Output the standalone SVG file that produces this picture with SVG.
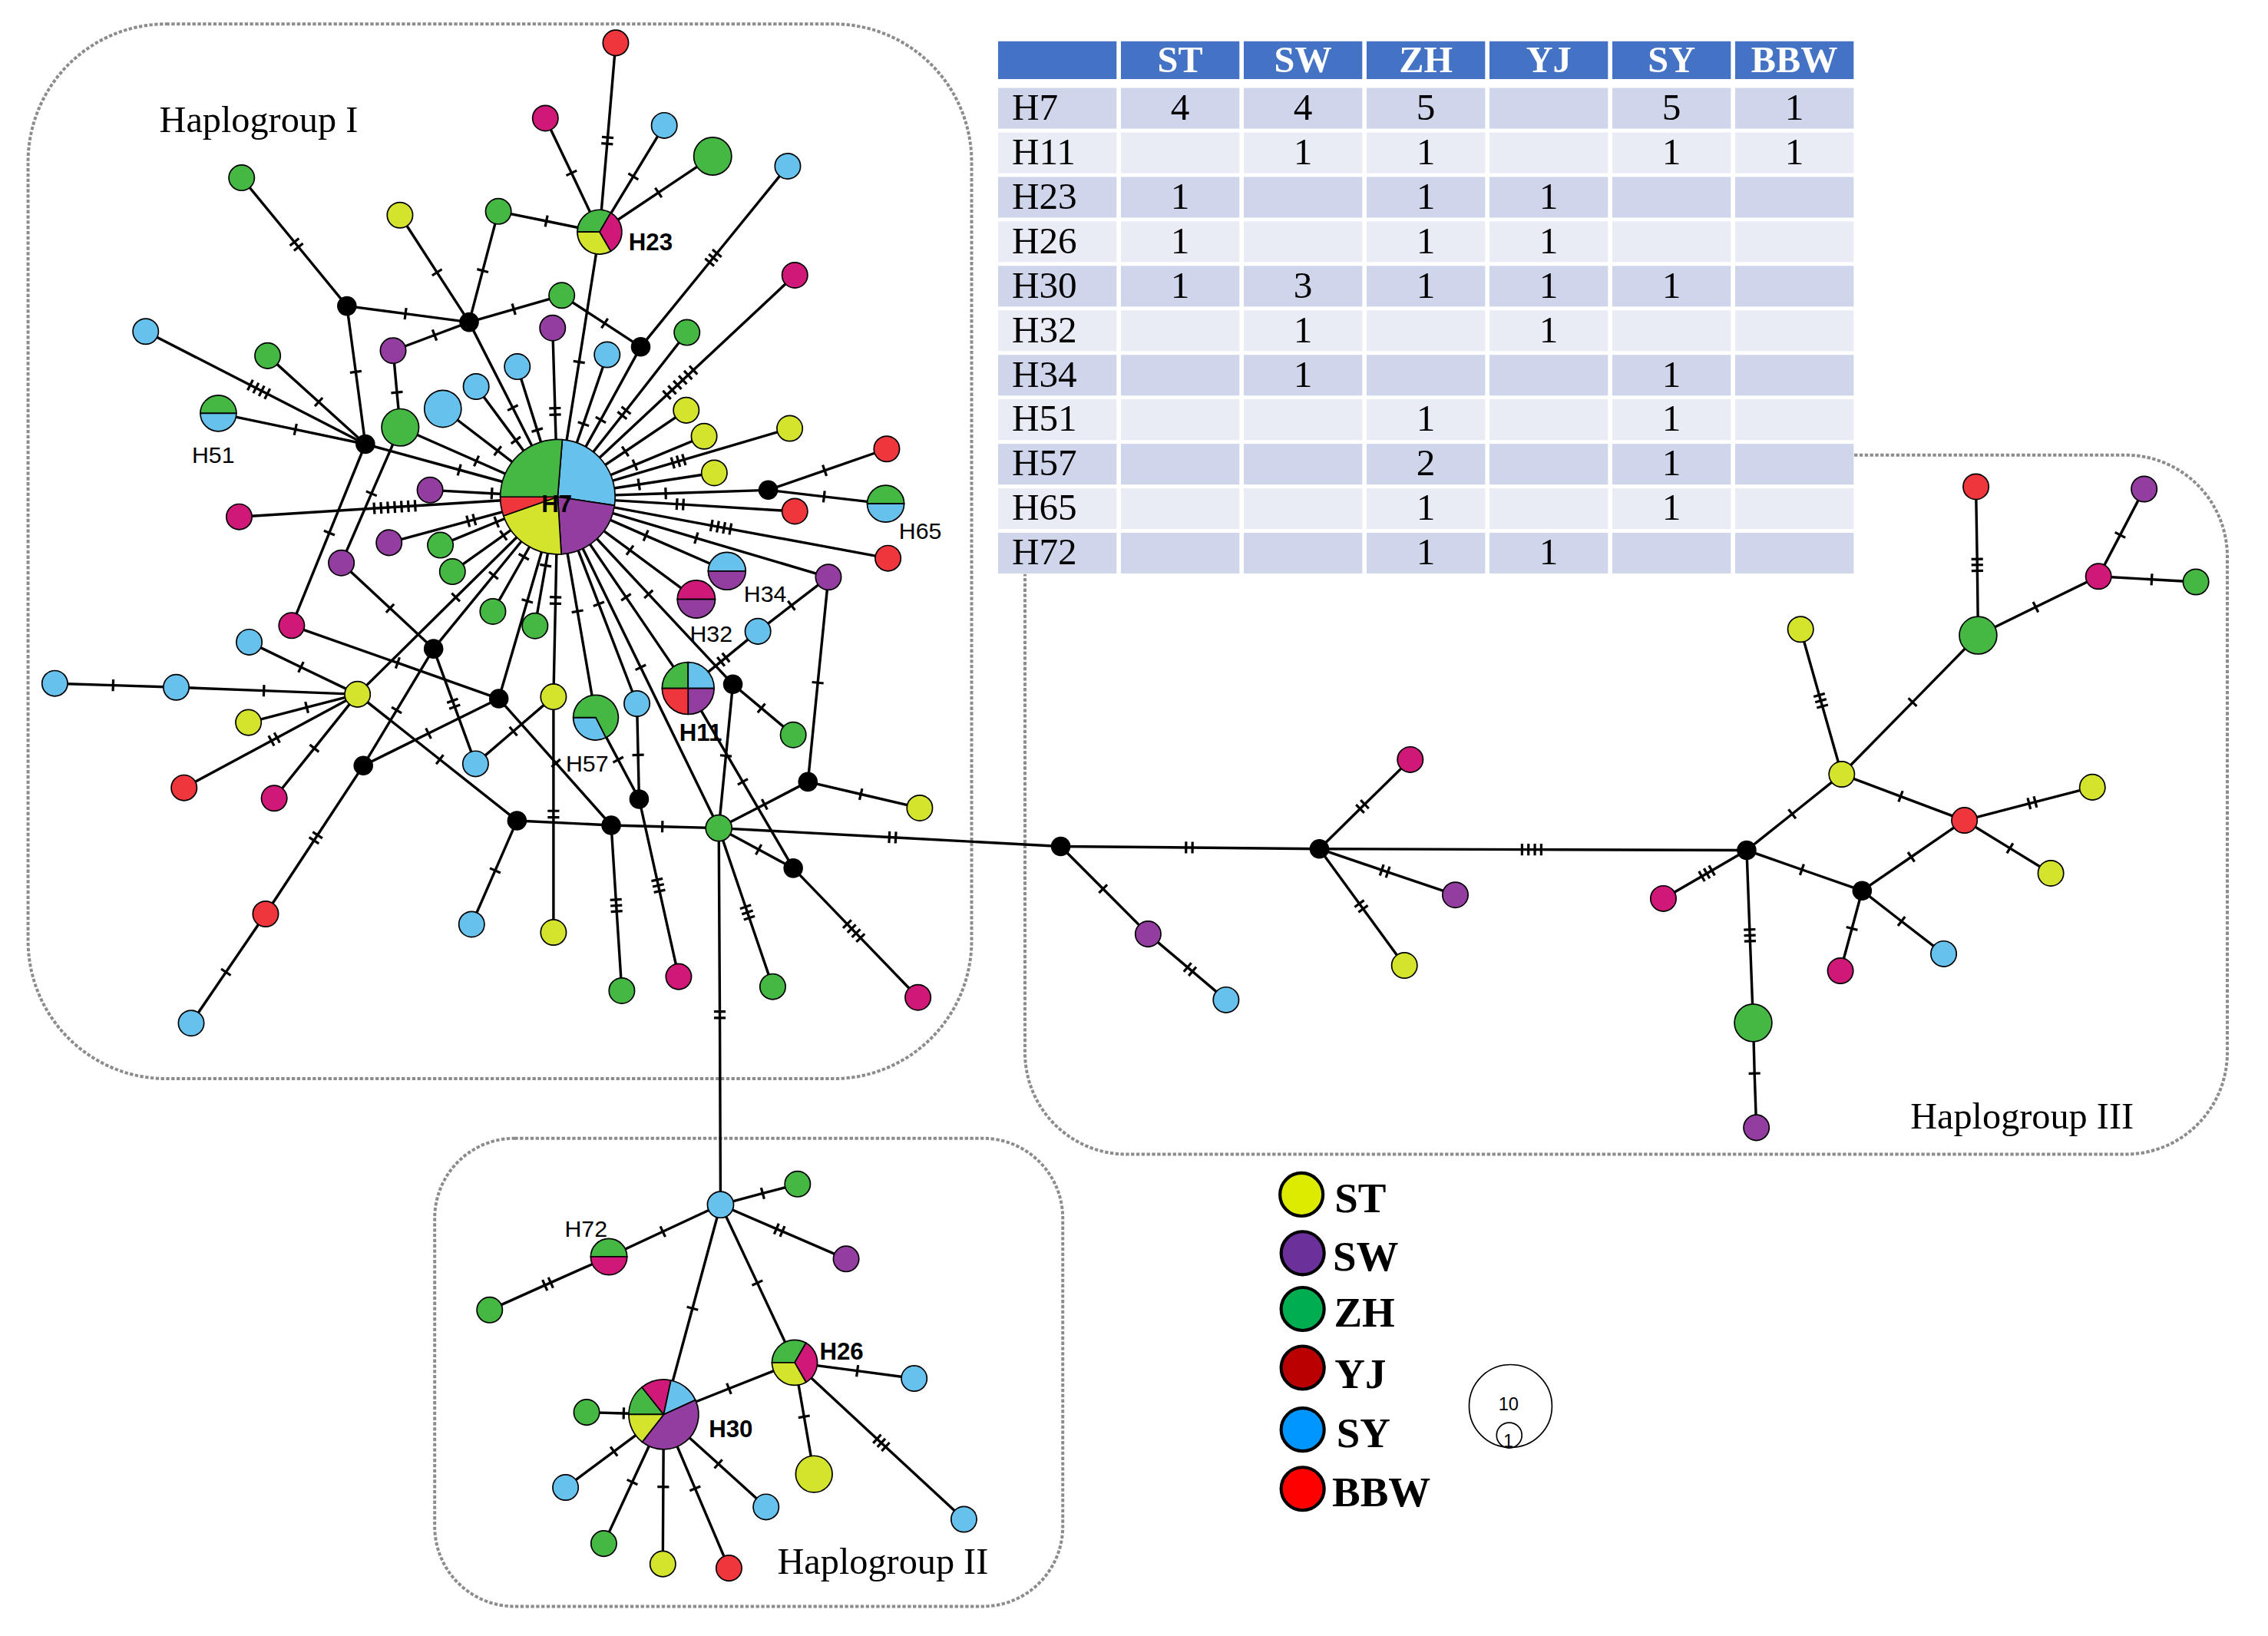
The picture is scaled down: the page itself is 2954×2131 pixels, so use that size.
<svg xmlns="http://www.w3.org/2000/svg" width="2954" height="2131" viewBox="0 0 2954 2131">
<defs>
<style>
.e{fill:none;stroke:#000;stroke-width:1.8}
.k1{marker-mid:url(#t1)}.k2{marker-mid:url(#t2)}.k3{marker-mid:url(#t3)}.k4{marker-mid:url(#t4)}.k6{marker-mid:url(#t6)}.k7{marker-mid:url(#t7)}
.tk{fill:none;stroke:#000;stroke-width:1.7}
circle,.sec{stroke:#000;stroke-width:0.9}
.cy{fill:#D4E42C}.cp{fill:#923D9F}.cg{fill:#45B843}.cm{fill:#CF1877}.cb{fill:#66C1EC}.cr{fill:#EE363C}.ck{fill:#000}
.box{fill:none;stroke:#8C8C8C;stroke-width:2.1;stroke-dasharray:2.3 1.3}
.hg{font-family:"Liberation Serif","Times New Roman",serif;font-size:25.5px;fill:#000}
.lb{font-family:"Liberation Sans",Arial,sans-serif;font-size:16px;fill:#000}
.lbb{font-family:"Liberation Sans",Arial,sans-serif;font-size:16.5px;font-weight:bold;fill:#000}
.th{font-family:"Liberation Serif","Times New Roman",serif;font-size:25.5px;font-weight:bold;fill:#fff;text-anchor:middle}
.td{font-family:"Liberation Serif","Times New Roman",serif;font-size:26px;fill:#000;text-anchor:middle}
.tl{font-family:"Liberation Serif","Times New Roman",serif;font-size:26px;fill:#000}
.lg{font-family:"Liberation Serif","Times New Roman",serif;font-size:29px;font-weight:bold;fill:#000}
.lgc{stroke:#000;stroke-width:2.2}
.sc{font-family:"Liberation Sans",Arial,sans-serif;font-size:12.5px;fill:#000;text-anchor:middle}
</style>
<marker id="t1" markerUnits="userSpaceOnUse" orient="auto" markerWidth="30" markerHeight="30" refX="15" refY="15" overflow="visible"><path class="tk" d="M15 11V19"/></marker>
<marker id="t2" markerUnits="userSpaceOnUse" orient="auto" markerWidth="30" markerHeight="30" refX="15" refY="15" overflow="visible"><path class="tk" d="M12.8 11V19M17.2 11V19"/></marker>
<marker id="t3" markerUnits="userSpaceOnUse" orient="auto" markerWidth="30" markerHeight="30" refX="15" refY="15" overflow="visible"><path class="tk" d="M11 11V19M15 11V19M19 11V19"/></marker>
<marker id="t4" markerUnits="userSpaceOnUse" orient="auto" markerWidth="30" markerHeight="30" refX="15" refY="15" overflow="visible"><path class="tk" d="M8.4 11V19M12.8 11V19M17.2 11V19M21.6 11V19"/></marker>
<marker id="t6" markerUnits="userSpaceOnUse" orient="auto" markerWidth="30" markerHeight="30" refX="15" refY="15" overflow="visible"><path class="tk" d="M2.5 11V19M7.5 11V19M12.5 11V19M17.5 11V19M22.5 11V19M27.5 11V19"/></marker>
<marker id="t7" markerUnits="userSpaceOnUse" orient="auto" markerWidth="30" markerHeight="30" refX="15" refY="15" overflow="visible"><path class="tk" d="M0.9 11V19M5.6 11V19M10.3 11V19M15 11V19M19.7 11V19M24.4 11V19M29.1 11V19"/></marker>
</defs>
<rect width="2954" height="2131" fill="#fff"/>
<g transform="scale(1.8936)">
<g id="groups">
<rect class="box" x="19.3" y="16.5" width="649" height="725.5" rx="95" ry="95"/>
<rect class="box" x="299" y="783" width="432" height="322" rx="55" ry="55"/>
<rect class="box" x="705" y="313" width="827" height="481" rx="70" ry="70"/>
<text class="hg" x="109.6" y="90.8">Haplogroup I</text>
<text class="hg" x="534.7" y="1082.4">Haplogroup II</text>
<text class="hg" x="1314" y="776.4">Haplogroup III</text>
</g>
<g id="table">
<rect x="686.5" y="28.4" width="588.5" height="366.5" fill="#fff"/>
<rect x="686.5" y="28.4" width="588.5" height="26" fill="#4472C4"/>
<rect x="686.5" y="60.5" width="588.5" height="28" fill="#CFD5EA"/>
<rect x="686.5" y="91.1" width="588.5" height="28" fill="#E9EBF5"/>
<rect x="686.5" y="121.7" width="588.5" height="28" fill="#CFD5EA"/>
<rect x="686.5" y="152.3" width="588.5" height="28" fill="#E9EBF5"/>
<rect x="686.5" y="182.9" width="588.5" height="28" fill="#CFD5EA"/>
<rect x="686.5" y="213.5" width="588.5" height="28" fill="#E9EBF5"/>
<rect x="686.5" y="244.1" width="588.5" height="28" fill="#CFD5EA"/>
<rect x="686.5" y="274.7" width="588.5" height="28" fill="#E9EBF5"/>
<rect x="686.5" y="305.3" width="588.5" height="28" fill="#CFD5EA"/>
<rect x="686.5" y="335.9" width="588.5" height="28" fill="#E9EBF5"/>
<rect x="686.5" y="366.5" width="588.5" height="28" fill="#CFD5EA"/>
<path d="M769.5 27V396M854 27V396M938.5 27V396M1023 27V396M1107.5 27V396M1192 27V396" stroke="#fff" stroke-width="3"/>
<text class="th" x="811.75" y="49.9">ST</text><text class="th" x="896.25" y="49.9">SW</text><text class="th" x="980.75" y="49.9">ZH</text><text class="th" x="1065.25" y="49.9">YJ</text><text class="th" x="1149.75" y="49.9">SY</text><text class="th" x="1234.25" y="49.9">BBW</text>
<text class="tl" x="696" y="82.3">H7</text><text class="td" x="811.75" y="82.3">4</text><text class="td" x="896.25" y="82.3">4</text><text class="td" x="980.75" y="82.3">5</text><text class="td" x="1149.75" y="82.3">5</text><text class="td" x="1234.25" y="82.3">1</text>
<text class="tl" x="696" y="112.9">H11</text><text class="td" x="896.25" y="112.9">1</text><text class="td" x="980.75" y="112.9">1</text><text class="td" x="1149.75" y="112.9">1</text><text class="td" x="1234.25" y="112.9">1</text>
<text class="tl" x="696" y="143.5">H23</text><text class="td" x="811.75" y="143.5">1</text><text class="td" x="980.75" y="143.5">1</text><text class="td" x="1065.25" y="143.5">1</text>
<text class="tl" x="696" y="174.1">H26</text><text class="td" x="811.75" y="174.1">1</text><text class="td" x="980.75" y="174.1">1</text><text class="td" x="1065.25" y="174.1">1</text>
<text class="tl" x="696" y="204.7">H30</text><text class="td" x="811.75" y="204.7">1</text><text class="td" x="896.25" y="204.7">3</text><text class="td" x="980.75" y="204.7">1</text><text class="td" x="1065.25" y="204.7">1</text><text class="td" x="1149.75" y="204.7">1</text>
<text class="tl" x="696" y="235.3">H32</text><text class="td" x="896.25" y="235.3">1</text><text class="td" x="1065.25" y="235.3">1</text>
<text class="tl" x="696" y="265.9">H34</text><text class="td" x="896.25" y="265.9">1</text><text class="td" x="1149.75" y="265.9">1</text>
<text class="tl" x="696" y="296.5">H51</text><text class="td" x="980.75" y="296.5">1</text><text class="td" x="1149.75" y="296.5">1</text>
<text class="tl" x="696" y="327.1">H57</text><text class="td" x="980.75" y="327.1">2</text><text class="td" x="1149.75" y="327.1">1</text>
<text class="tl" x="696" y="357.7">H65</text><text class="td" x="980.75" y="357.7">1</text><text class="td" x="1149.75" y="357.7">1</text>
<text class="tl" x="696" y="388.3">H72</text><text class="td" x="980.75" y="388.3">1</text><text class="td" x="1065.25" y="388.3">1</text>
</g>
<g id="connectors">
<path class="e k2" d="M238.6 210.5L203.9 168.2L166.2 122.3"/>
<path class="e k1" d="M238.6 210.5L278.9 215.8L322.7 221.6"/>
<path class="e k1" d="M238.6 210.5L244.7 255.8L251.3 305.5"/>
<path class="e k1" d="M322.7 221.6L300.6 187.4L275.1 148"/>
<path class="e k1" d="M322.7 221.6L332 186.2L342.8 145.4"/>
<path class="e k1" d="M322.7 221.6L298.9 230.5L270.4 241.2"/>
<path class="e k1" d="M322.7 221.6L353.4 212.7L386.4 203.2"/>
<path class="e k1" d="M322.7 221.6L352.7 280.5L383.6 341.8"/>
<path class="e k1" d="M342.8 145.4L375.8 152.1L412.4 159.6"/>
<path class="e k1" d="M270.4 241.2L273 269.9L275.3 294"/>
<path class="e k4" d="M251.3 305.5L178 267.9L100.2 228"/>
<path class="e k1" d="M251.3 305.5L219.2 276.5L184.1 244.7"/>
<path class="e k1" d="M251.3 305.5L203.2 295.4L150.2 284.3"/>
<path class="e k1" d="M251.3 305.5L315.9 323.2L383.6 341.8"/>
<path class="e k1" d="M251.3 305.5L226.5 366.6L200.6 430.3"/>
<path class="e k1" d="M275.3 294L327.7 317.1L383.6 341.8"/>
<path class="e k1" d="M275.3 294L255.5 339.5L234.8 387.2"/>
<path class="e k1" d="M304.6 281.2L342.3 310.1L383.6 341.8"/>
<path class="e k1" d="M327.5 265.9L354.8 302.8L383.6 341.8"/>
<path class="e k1" d="M355.8 252.2L369.5 295.8L383.6 341.8"/>
<path class="e k1" d="M295.8 337.1L338.3 339.4L383.6 341.8"/>
<path class="e k7" d="M164.5 355.5L271.5 348.8L383.6 341.8"/>
<path class="e k2" d="M412.4 159.6L417.8 96.7L423.5 29.5"/>
<path class="e k1" d="M412.4 159.6L393.1 119L375.1 81.3"/>
<path class="e k1" d="M412.4 159.6L435.6 121.4L456.9 86.3"/>
<path class="e k1" d="M412.4 159.6L452.9 132.5L490.2 107.5"/>
<path class="e k1" d="M412.4 159.6L398.3 249L383.6 341.8"/>
<path class="e k1" d="M440.7 238.6L415.9 222.4L386.4 203.2"/>
<path class="e k3" d="M440.7 238.6L490.6 177.3L541.8 114.3"/>
<path class="e k1" d="M440.7 238.6L413.2 288.8L383.6 341.8"/>
<path class="e k6" d="M383.6 341.8L467.8 263.1L546.7 189.3"/>
<path class="e k2" d="M383.6 341.8L381.8 283L380.1 225.6"/>
<path class="e k1" d="M383.6 341.8L401.3 291.6L417.6 244"/>
<path class="e k2" d="M383.6 341.8L429.3 284L472.5 228.7"/>
<path class="e k1" d="M383.6 341.8L430.1 310.5L472 282.2"/>
<path class="e k1" d="M383.6 341.8L436.7 319.8L484.3 300.1"/>
<path class="e k3" d="M383.6 341.8L466.6 317.3L543.2 294.7"/>
<path class="e k1" d="M383.6 341.8L439.5 333.2L491.3 325.3"/>
<path class="e k1" d="M383.6 341.8L457.9 339.4L528.4 337.1"/>
<path class="e k1" d="M528.4 337.1L567.2 323.6L609.9 308.8"/>
<path class="e k1" d="M528.4 337.1L566.8 341.6L609.2 346.5"/>
<path class="e k2" d="M383.6 341.8L467.8 346.9L546.7 351.7"/>
<path class="e k4" d="M383.6 341.8L495.9 362.7L610.8 384"/>
<path class="e k1" d="M383.6 341.8L478.9 370.1L569.8 397"/>
<path class="e k1" d="M569.8 397L544.4 416.5L521.3 434.3"/>
<path class="e k1" d="M569.8 397L562.5 469.6L555.7 537.8"/>
<path class="e k2" d="M521.3 434.3L497.6 453.7L473.3 473.5"/>
<path class="e k1" d="M383.6 341.8L444.2 368.4L500 392.8"/>
<path class="e k1" d="M383.6 341.8L433.3 378.5L478.9 412.2"/>
<path class="e k1" d="M383.6 341.8L446.1 408.7L504.1 470.7"/>
<path class="e k1" d="M504.1 470.7L523.7 487.1L545.6 505.5"/>
<path class="e k1" d="M504.1 470.7L499.3 519.9L494.4 569.6"/>
<path class="e k1" d="M383.6 341.8L430.6 410.8L473.3 473.5"/>
<path class="e k1" d="M473.3 473.5L510.9 537.8L545.6 597.2"/>
<path class="e k1" d="M494.4 569.6L525.9 553.3L555.7 537.8"/>
<path class="e k1" d="M494.4 569.6L521.8 584.4L545.6 597.2"/>
<path class="e k1" d="M555.7 537.8L592.1 546.3L632.6 555.8"/>
<path class="e k4" d="M545.6 597.2L587.3 640.4L631.4 686.1"/>
<path class="e k3" d="M494.4 569.6L514.1 627.6L531.5 678.7"/>
<path class="e k1" d="M383.6 341.8L440.65 459.1L494.4 569.6"/>
<path class="e k1" d="M383.6 341.8L411.85 415.5L438.1 484"/>
<path class="e k1" d="M438.1 484L438.9 519.3L439.6 549.7"/>
<path class="e k1" d="M383.6 341.8L397.2 420.5L409.8 493.6"/>
<path class="e k1" d="M409.8 493.6L425.2 522.6L439.6 549.7"/>
<path class="e k3" d="M439.6 549.7L452.8 609.1L466.8 671.8"/>
<path class="e k1" d="M420.4 567.7L455.6 568.6L494.4 569.6"/>
<path class="e" d="M355.6 564.5L420.4 567.7"/>
<path class="e k3" d="M420.4 567.7L423.9 622.9L427.7 681.5"/>
<path class="e k2" d="M383.6 341.8L382.1 413L380.7 479.3"/>
<path class="e k2" d="M380.7 479.3L380.7 560L380.7 641.4"/>
<path class="e k1" d="M380.7 479.3L353.1 503L327.1 525.4"/>
<path class="e k2" d="M298.2 446.3L312 484.1L327.1 525.4"/>
<path class="e k1" d="M383.6 341.8L375.3 389L368 430.5"/>
<path class="e k1" d="M383.6 341.8L362.7 413.4L343.1 480.6"/>
<path class="e k1" d="M383.6 341.8L360.3 383L339 420.6"/>
<path class="e k1" d="M383.6 341.8L339.5 395.8L298.2 446.3"/>
<path class="e k1" d="M383.6 341.8L313.5 410.9L245.9 477.6"/>
<path class="e k1" d="M383.6 341.8L346.3 368.3L311.2 393.2"/>
<path class="e k1" d="M383.6 341.8L341.5 359.1L302.9 375"/>
<path class="e k2" d="M383.6 341.8L324.1 358L267.6 373.3"/>
<path class="e k1" d="M343.1 480.6L294.7 504.5L249.9 526.6"/>
<path class="e k1" d="M343.1 480.6L273.5 456L200.6 430.3"/>
<path class="e k1" d="M343.1 480.6L382.4 524.9L420.4 567.7"/>
<path class="e k1" d="M298.2 446.3L272.8 488.5L249.9 526.6"/>
<path class="e k1" d="M298.2 446.3L268.3 418.4L234.8 387.2"/>
<path class="e k2" d="M249.9 526.6L217.2 576.3L182.7 628.7"/>
<path class="e k1" d="M182.7 628.7L155.4 668.7L131.5 703.8"/>
<path class="e k1" d="M245.9 477.6L207 458.9L171.4 441.7"/>
<path class="e k1" d="M245.9 477.6L181.5 475.1L121.2 472.8"/>
<path class="e k1" d="M121.2 472.8L77.8 471.4L37.7 470.1"/>
<path class="e k1" d="M245.9 477.6L211 486.6L170.9 497"/>
<path class="e k2" d="M245.9 477.6L188.6 508.5L126.6 541.9"/>
<path class="e k1" d="M245.9 477.6L216.2 514.7L188.6 549.1"/>
<path class="e k1" d="M245.9 477.6L302.5 522.4L355.6 564.5"/>
<path class="e k1" d="M355.6 564.5L340.6 598.8L324.4 635.8"/>
<path class="e k2" d="M494.4 569.6L613.9 576L729.6 582.2"/>
<path class="e k2" d="M494.4 569.6L495.1 698L495.6 828.7"/>
<path class="e k2" d="M729.6 582.2L818 583L907.5 583.9"/>
<path class="e k1" d="M729.6 582.2L758.7 611.4L789.7 642.5"/>
<path class="e k2" d="M789.7 642.5L818.5 666.8L843.3 687.8"/>
<path class="e k2" d="M907.5 583.9L937.1 554.8L970 522.5"/>
<path class="e k2" d="M907.5 583.9L952.5 599.2L1001 615.6"/>
<path class="e k2" d="M907.5 583.9L936.3 623.4L966 664.1"/>
<path class="e k4" d="M907.5 583.9L1053.5 584.4L1201.4 584.9"/>
<path class="e k3" d="M1201.4 584.9L1174 600.8L1144.1 618.1"/>
<path class="e k3" d="M1201.4 584.9L1203.6 643.4L1205.9 703.6"/>
<path class="e k1" d="M1205.9 703.6L1206.8 738.4L1208.1 775.7"/>
<path class="e k1" d="M1201.4 584.9L1232.7 559.9L1266.8 532.6"/>
<path class="e k1" d="M1201.4 584.9L1239.4 598.2L1280.8 612.7"/>
<path class="e k1" d="M1280.8 612.7L1273.8 638.7L1265.9 667.8"/>
<path class="e k1" d="M1280.8 612.7L1307.9 633.7L1336.9 656.1"/>
<path class="e k1" d="M1280.8 612.7L1314.6 589.5L1351.2 564.3"/>
<path class="e k1" d="M1266.8 532.6L1307.3 547.8L1351.2 564.3"/>
<path class="e k2" d="M1351.2 564.3L1397.8 552.2L1439.2 541.5"/>
<path class="e k1" d="M1351.2 564.3L1382.5 583.5L1410.6 600.7"/>
<path class="e k3" d="M1266.8 532.6L1252.4 482L1238.5 432.9"/>
<path class="e k1" d="M1266.8 532.6L1315.5 483L1360.6 437"/>
<path class="e k3" d="M1360.6 437L1360 388.6L1359.1 334.8"/>
<path class="e k1" d="M1360.6 437L1400.2 417.6L1443.4 396.5"/>
<path class="e k1" d="M1443.4 396.5L1458.3 368L1474.8 336.4"/>
<path class="e k1" d="M1443.4 396.5L1480 398.6L1510.4 400.3"/>
<path class="e k1" d="M495.6 828.7L524.6 820.9L548.6 814.5"/>
<path class="e k2" d="M495.6 828.7L536.1 846.2L582 866"/>
<path class="e k1" d="M495.6 828.7L455.9 847.2L418.8 864.5"/>
<path class="e k2" d="M418.8 864.5L376.8 883.2L336.8 901.1"/>
<path class="e k1" d="M495.6 828.7L476.3 900L456.5 973"/>
<path class="e k1" d="M495.6 828.7L520.9 882.5L546.6 937.3"/>
<path class="e k1" d="M546.6 937.3L501.4 955.2L456.5 973"/>
<path class="e k1" d="M546.6 937.3L589.7 943L628.8 948.2"/>
<path class="e k1" d="M546.6 937.3L553.05 974.5L559.9 1014"/>
<path class="e k3" d="M546.6 937.3L606.2 992.5L663 1045.1"/>
<path class="e k1" d="M456.5 973L429 972.2L403.5 971.5"/>
<path class="e k1" d="M456.5 973L422.3 998.4L389 1023.2"/>
<path class="e k1" d="M456.5 973L434.9 1019.5L415.3 1061.8"/>
<path class="e k1" d="M456.5 973L456.2 1022.8L455.9 1075.8"/>
<path class="e k1" d="M456.5 973L478.1 1023.9L501.4 1078.7"/>
<path class="e k1" d="M456.5 973L494.1 1007L526.9 1036.6"/>
</g>
<g id="nodes">
<g id="H7">
<path class="sec cb" d="M383.6 341.8L386.77 302.43A39.5 39.5 0 0 1 422.67 347.64Z"/>
<path class="sec cp" d="M383.6 341.8L422.67 347.64A39.5 39.5 0 0 1 386.08 381.22Z"/>
<path class="sec cy" d="M383.6 341.8L386.08 381.22A39.5 39.5 0 0 1 346.32 354.86Z"/>
<path class="sec cr" d="M383.6 341.8L346.32 354.86A39.5 39.5 0 0 1 344.1 341.8Z"/>
<path class="sec cg" d="M383.6 341.8L344.1 341.8A39.5 39.5 0 0 1 386.77 302.43Z"/>
<text class="lbb" x="383" y="352.4" text-anchor="middle" font-size="20">H7</text>
</g>
<g id="H23">
<path class="sec cg" d="M412.4 159.6L397.1 159.6A15.3 15.3 0 0 1 420.05 146.35Z"/>
<path class="sec cm" d="M412.4 159.6L420.05 146.35A15.3 15.3 0 0 1 420.05 172.85Z"/>
<path class="sec cy" d="M412.4 159.6L420.05 172.85A15.3 15.3 0 0 1 397.1 159.6Z"/>
<text class="lbb" x="432.4" y="172.1">H23</text>
</g>
<g id="H51">
<path class="sec cg" d="M137.8 284.3A12.4 12.4 0 0 1 162.6 284.3Z"/>
<path class="sec cb" d="M162.6 284.3A12.4 12.4 0 0 1 137.8 284.3Z"/>
<text class="lb" x="132" y="318.2">H51</text>
</g>
<g id="H65">
<path class="sec cg" d="M596.5 346.5A12.7 12.7 0 0 1 621.9 346.5Z"/>
<path class="sec cb" d="M621.9 346.5A12.7 12.7 0 0 1 596.5 346.5Z"/>
<text class="lb" x="618.3" y="370.8">H65</text>
</g>
<g id="H34">
<path class="sec cb" d="M487.1 392.8A12.9 12.9 0 0 1 512.9 392.8Z"/>
<path class="sec cp" d="M512.9 392.8A12.9 12.9 0 0 1 487.1 392.8Z"/>
<text class="lb" x="511.6" y="414.1">H34</text>
</g>
<g id="H32">
<path class="sec cm" d="M465.9 412.2A13 13 0 0 1 491.9 412.2Z"/>
<path class="sec cp" d="M491.9 412.2A13 13 0 0 1 465.9 412.2Z"/>
<text class="lb" x="474.5" y="441.7">H32</text>
</g>
<g id="H11">
<path class="sec cg" d="M473.3 473.5L455.4 473.5A17.9 17.9 0 0 1 473.3 455.6Z"/>
<path class="sec cb" d="M473.3 473.5L473.3 455.6A17.9 17.9 0 0 1 491.2 473.5Z"/>
<path class="sec cp" d="M473.3 473.5L491.2 473.5A17.9 17.9 0 0 1 473.3 491.4Z"/>
<path class="sec cr" d="M473.3 473.5L473.3 491.4A17.9 17.9 0 0 1 455.4 473.5Z"/>
<text class="lbb" x="467.2" y="509.4">H11</text>
</g>
<g id="H57">
<path class="sec cb" d="M409.8 493.6L416.84 507.41A15.5 15.5 0 0 1 394.3 493.6Z"/>
<path class="sec cg" d="M409.8 493.6L394.3 493.6A15.5 15.5 0 1 1 416.84 507.41Z"/>
<text class="lb" x="389.2" y="530.9">H57</text>
</g>
<g id="M1"><circle class="ck" cx="238.6" cy="210.5" r="6.3"/></g>
<g id="M2"><circle class="ck" cx="322.7" cy="221.6" r="6.3"/></g>
<g id="M3"><circle class="ck" cx="440.7" cy="238.6" r="6.3"/></g>
<g id="M4"><circle class="ck" cx="251.3" cy="305.5" r="6.3"/></g>
<g id="M5"><circle class="ck" cx="528.4" cy="337.1" r="6.3"/></g>
<g id="M6"><circle class="ck" cx="298.2" cy="446.3" r="6.3"/></g>
<g id="M7"><circle class="ck" cx="343.1" cy="480.6" r="6.3"/></g>
<g id="M8"><circle class="ck" cx="249.9" cy="526.6" r="6.3"/></g>
<g id="M9"><circle class="ck" cx="355.6" cy="564.5" r="6.3"/></g>
<g id="M10"><circle class="ck" cx="420.4" cy="567.7" r="6.3"/></g>
<g id="M11"><circle class="ck" cx="439.6" cy="549.7" r="6.3"/></g>
<g id="M12"><circle class="ck" cx="504.1" cy="470.7" r="6.3"/></g>
<g id="M13"><circle class="ck" cx="555.7" cy="537.8" r="6.3"/></g>
<g id="M14"><circle class="ck" cx="545.6" cy="597.2" r="6.3"/></g>
<g id="G0"><circle class="cg" cx="494.4" cy="569.6" r="9"/></g>
<g id="L1"><circle class="cg" cx="166.2" cy="122.3" r="8.8"/></g>
<g id="L2"><circle class="cy" cx="275.1" cy="148" r="8.8"/></g>
<g id="L3"><circle class="cg" cx="342.8" cy="145.4" r="8.8"/></g>
<g id="L4"><circle class="cb" cx="100.2" cy="228" r="8.8"/></g>
<g id="L5"><circle class="cg" cx="184.1" cy="244.7" r="8.8"/></g>
<g id="L6"><circle class="cp" cx="270.4" cy="241.2" r="8.8"/></g>
<g id="L7"><circle class="cg" cx="275.3" cy="294" r="12.8"/></g>
<g id="L8"><circle class="cb" cx="304.6" cy="281.2" r="12.7"/></g>
<g id="L9"><circle class="cb" cx="327.5" cy="265.9" r="8.8"/></g>
<g id="L10"><circle class="cb" cx="355.8" cy="252.2" r="8.8"/></g>
<g id="L11"><circle class="cp" cx="295.8" cy="337.1" r="8.8"/></g>
<g id="L12"><circle class="cm" cx="164.5" cy="355.5" r="8.8"/></g>
<g id="L13"><circle class="cr" cx="423.5" cy="29.5" r="8.8"/></g>
<g id="L14"><circle class="cm" cx="375.1" cy="81.3" r="8.8"/></g>
<g id="L15"><circle class="cb" cx="456.9" cy="86.3" r="8.8"/></g>
<g id="L16"><circle class="cg" cx="490.2" cy="107.5" r="13"/></g>
<g id="L17"><circle class="cb" cx="541.8" cy="114.3" r="8.8"/></g>
<g id="L18"><circle class="cm" cx="546.7" cy="189.3" r="8.8"/></g>
<g id="L19"><circle class="cg" cx="386.4" cy="203.2" r="8.8"/></g>
<g id="L20"><circle class="cp" cx="380.1" cy="225.6" r="8.8"/></g>
<g id="L21"><circle class="cb" cx="417.6" cy="244" r="8.8"/></g>
<g id="L22"><circle class="cg" cx="472.5" cy="228.7" r="8.8"/></g>
<g id="L23"><circle class="cy" cx="472" cy="282.2" r="8.8"/></g>
<g id="L24"><circle class="cy" cx="484.3" cy="300.1" r="8.8"/></g>
<g id="L25"><circle class="cy" cx="543.2" cy="294.7" r="8.8"/></g>
<g id="L26"><circle class="cy" cx="491.3" cy="325.3" r="8.8"/></g>
<g id="L27"><circle class="cr" cx="609.9" cy="308.8" r="8.8"/></g>
<g id="L28"><circle class="cr" cx="546.7" cy="351.7" r="8.8"/></g>
<g id="L29"><circle class="cr" cx="610.8" cy="384" r="8.8"/></g>
<g id="L30"><circle class="cp" cx="569.8" cy="397" r="8.8"/></g>
<g id="L31"><circle class="cb" cx="521.3" cy="434.3" r="8.8"/></g>
<g id="L32"><circle class="cg" cx="545.6" cy="505.5" r="8.8"/></g>
<g id="L33"><circle class="cb" cx="438.1" cy="484" r="8.8"/></g>
<g id="L34"><circle class="cy" cx="380.7" cy="479.3" r="8.8"/></g>
<g id="L35"><circle class="cy" cx="380.7" cy="641.4" r="8.8"/></g>
<g id="L36"><circle class="cb" cx="327.1" cy="525.4" r="8.8"/></g>
<g id="L38"><circle class="cy" cx="632.6" cy="555.8" r="8.8"/></g>
<g id="L39"><circle class="cb" cx="324.4" cy="635.8" r="8.8"/></g>
<g id="L40"><circle class="cg" cx="427.7" cy="681.5" r="8.8"/></g>
<g id="L41"><circle class="cm" cx="466.8" cy="671.8" r="8.8"/></g>
<g id="L42"><circle class="cg" cx="531.5" cy="678.7" r="8.8"/></g>
<g id="L43"><circle class="cm" cx="631.4" cy="686.1" r="8.8"/></g>
<g id="L44"><circle class="cr" cx="182.7" cy="628.7" r="8.8"/></g>
<g id="L45"><circle class="cb" cx="131.5" cy="703.8" r="8.8"/></g>
<g id="L46"><circle class="cp" cx="234.8" cy="387.2" r="8.8"/></g>
<g id="L47"><circle class="cm" cx="200.6" cy="430.3" r="8.8"/></g>
<g id="L48"><circle class="cy" cx="245.9" cy="477.6" r="8.8"/></g>
<g id="L49"><circle class="cb" cx="171.4" cy="441.7" r="8.8"/></g>
<g id="L50"><circle class="cb" cx="121.2" cy="472.8" r="8.8"/></g>
<g id="L51"><circle class="cy" cx="170.9" cy="497" r="8.8"/></g>
<g id="L52"><circle class="cr" cx="126.6" cy="541.9" r="8.8"/></g>
<g id="L53"><circle class="cm" cx="188.6" cy="549.1" r="8.8"/></g>
<g id="L54"><circle class="cb" cx="37.7" cy="470.1" r="8.8"/></g>
<g id="L55"><circle class="cp" cx="267.6" cy="373.3" r="8.8"/></g>
<g id="L56"><circle class="cg" cx="302.9" cy="375" r="8.8"/></g>
<g id="L57"><circle class="cg" cx="311.2" cy="393.2" r="8.8"/></g>
<g id="L58"><circle class="cg" cx="339" cy="420.6" r="8.8"/></g>
<g id="L59"><circle class="cg" cx="368" cy="430.5" r="8.8"/></g>
<g id="M20"><circle class="ck" cx="729.6" cy="582.2" r="6.3"/></g>
<g id="M21"><circle class="ck" cx="907.5" cy="583.9" r="6.3"/></g>
<g id="M22"><circle class="ck" cx="1201.4" cy="584.9" r="6.3"/></g>
<g id="M23"><circle class="ck" cx="1280.8" cy="612.7" r="6.3"/></g>
<g id="N1"><circle class="cp" cx="789.7" cy="642.5" r="8.8"/></g>
<g id="N2"><circle class="cb" cx="843.3" cy="687.8" r="8.8"/></g>
<g id="N3"><circle class="cm" cx="970" cy="522.5" r="8.8"/></g>
<g id="N4"><circle class="cp" cx="1001" cy="615.6" r="8.8"/></g>
<g id="N5"><circle class="cy" cx="966" cy="664.1" r="8.8"/></g>
<g id="N6"><circle class="cm" cx="1144.1" cy="618.1" r="8.8"/></g>
<g id="N7"><circle class="cg" cx="1205.9" cy="703.6" r="12.9"/></g>
<g id="N8"><circle class="cp" cx="1208.1" cy="775.7" r="8.8"/></g>
<g id="N9"><circle class="cy" cx="1266.8" cy="532.6" r="8.8"/></g>
<g id="N10"><circle class="cm" cx="1265.9" cy="667.8" r="8.8"/></g>
<g id="N11"><circle class="cb" cx="1336.9" cy="656.1" r="8.8"/></g>
<g id="N12"><circle class="cr" cx="1351.2" cy="564.3" r="8.8"/></g>
<g id="N13"><circle class="cy" cx="1439.2" cy="541.5" r="8.8"/></g>
<g id="N14"><circle class="cy" cx="1410.6" cy="600.7" r="8.8"/></g>
<g id="N15"><circle class="cy" cx="1238.5" cy="432.9" r="8.8"/></g>
<g id="N16"><circle class="cg" cx="1360.6" cy="437" r="12.9"/></g>
<g id="N17"><circle class="cr" cx="1359.1" cy="334.8" r="8.8"/></g>
<g id="N18"><circle class="cm" cx="1443.4" cy="396.5" r="8.8"/></g>
<g id="N19"><circle class="cp" cx="1474.8" cy="336.4" r="8.8"/></g>
<g id="N20"><circle class="cg" cx="1510.4" cy="400.3" r="8.8"/></g>
<g id="B0"><circle class="cb" cx="495.6" cy="828.7" r="9"/></g>
<g id="N21"><circle class="cg" cx="548.6" cy="814.5" r="8.8"/></g>
<g id="N22"><circle class="cp" cx="582" cy="866" r="8.8"/></g>
<g id="N23"><circle class="cg" cx="336.8" cy="901.1" r="8.8"/></g>
<g id="N24"><circle class="cb" cx="628.8" cy="948.2" r="8.8"/></g>
<g id="N25"><circle class="cy" cx="559.9" cy="1014" r="12.6"/></g>
<g id="N26"><circle class="cb" cx="663" cy="1045.1" r="8.8"/></g>
<g id="N27"><circle class="cg" cx="403.5" cy="971.5" r="8.8"/></g>
<g id="N28"><circle class="cb" cx="389" cy="1023.2" r="8.8"/></g>
<g id="N29"><circle class="cg" cx="415.3" cy="1061.8" r="8.8"/></g>
<g id="N30"><circle class="cy" cx="455.9" cy="1075.8" r="8.8"/></g>
<g id="N31"><circle class="cr" cx="501.4" cy="1078.7" r="8.8"/></g>
<g id="N32"><circle class="cb" cx="526.9" cy="1036.6" r="8.8"/></g>
<g id="H72">
<path class="sec cg" d="M406.3 864.5A12.5 12.5 0 0 1 431.3 864.5Z"/>
<path class="sec cm" d="M431.3 864.5A12.5 12.5 0 0 1 406.3 864.5Z"/>
<text class="lb" x="388.4" y="850.7">H72</text>
</g>
<g id="H26">
<path class="sec cg" d="M546.6 937.3L531 937.3A15.6 15.6 0 0 1 554.4 923.79Z"/>
<path class="sec cm" d="M546.6 937.3L554.4 923.79A15.6 15.6 0 0 1 554.4 950.81Z"/>
<path class="sec cy" d="M546.6 937.3L554.4 950.81A15.6 15.6 0 0 1 531 937.3Z"/>
<text class="lbb" x="563.7" y="935">H26</text>
</g>
<g id="H30">
<path class="sec cg" d="M456.5 973L432.5 973A24 24 0 0 1 441.53 954.24Z"/>
<path class="sec cm" d="M456.5 973L441.53 954.24A24 24 0 0 1 461.49 949.53Z"/>
<path class="sec cb" d="M456.5 973L461.49 949.53A24 24 0 0 1 478.34 963.05Z"/>
<path class="sec cp" d="M456.5 973L478.34 963.05A24 24 0 0 1 441.72 991.91Z"/>
<path class="sec cy" d="M456.5 973L441.72 991.91A24 24 0 0 1 432.5 973Z"/>
<text class="lbb" x="487.5" y="988.8">H30</text>
</g>
</g>
<g id="legend">
<g id="leg-ST"><circle class="lgc" cx="895.2" cy="821.7" r="14.8" fill="#DCEB00"/><text class="lg" x="918" y="833.8">ST</text></g>
<g id="leg-SW"><circle class="lgc" cx="896" cy="862" r="14.8" fill="#6C309B"/><text class="lg" x="916.8" y="874">SW</text></g>
<g id="leg-ZH"><circle class="lgc" cx="896" cy="900.4" r="14.8" fill="#00AD50"/><text class="lg" x="917.5" y="912.3">ZH</text></g>
<g id="leg-YJ"><circle class="lgc" cx="896" cy="940.8" r="14.8" fill="#BA0000"/><text class="lg" x="918" y="954.9">YJ</text></g>
<g id="leg-SY"><circle class="lgc" cx="896" cy="983.4" r="14.8" fill="#0096FF"/><text class="lg" x="919.3" y="995.4">SY</text></g>
<g id="leg-BBW"><circle class="lgc" cx="896" cy="1024.1" r="14.8" fill="#FF0000"/><text class="lg" x="916.3" y="1035.9">BBW</text></g>
<g id="scale">
<circle cx="1039" cy="967.2" r="28.5" fill="none" stroke-width="1"/>
<circle cx="1038.1" cy="987.3" r="8.7" fill="none" stroke-width="1"/>
<text class="sc" x="1037.6" y="969.9">10</text>
<text class="sc" x="1037.5" y="995.3">1</text>
</g>
</g>
</g>
</svg>
